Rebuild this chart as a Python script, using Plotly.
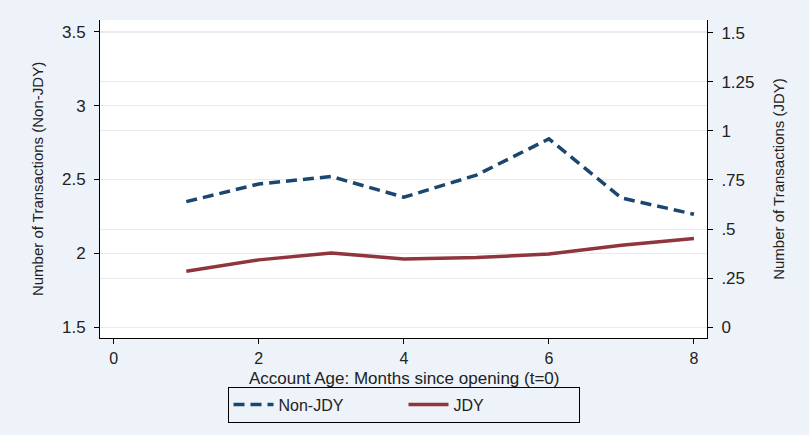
import plotly.graph_objects as go

months = [1, 2, 3, 4, 5, 6, 7, 8]
non_jdy = [2.35, 2.47, 2.52, 2.38, 2.53, 2.775, 2.375, 2.265]
jdy = [0.285, 0.343, 0.378, 0.348, 0.355, 0.373, 0.418, 0.452]

x_ticks = [0, 2, 4, 6, 8]
left_ticks = [1.5, 2, 2.5, 3, 3.5]
left_labels = ["1.5", "2", "2.5", "3", "3.5"]
right_ticks = [0, 0.25, 0.5, 0.75, 1, 1.25, 1.5]
right_labels = ["0", ".25", ".5", ".75", "1", "1.25", "1.5"]

NAVY = "#1a476f"
MAROON = "#90353b"
BG = "#eef2f9"
GRID = "#e6ebf0"
FONT = "Liberation Sans, Arial, sans-serif"

fig = go.Figure()
fig.add_trace(go.Scatter(x=months, y=non_jdy, mode="lines", name="Non-JDY",
                         line=dict(color=NAVY, width=3.5, dash="11px,6px"), yaxis="y"))
fig.add_trace(go.Scatter(x=months, y=jdy, mode="lines", name="JDY",
                         line=dict(color=MAROON, width=3.5), yaxis="y2"))

fig.update_layout(
    width=809, height=435,
    margin=dict(l=100, r=102, t=20, b=91),
    paper_bgcolor=BG, plot_bgcolor="white",
    font=dict(family=FONT, color="#222", size=17),
    showlegend=True,
    legend=dict(orientation="h", x=0.5, xanchor="center", y=-0.153, yanchor="top",
                bordercolor="black", borderwidth=1, bgcolor=BG,
                font=dict(size=16), entrywidth=120, itemwidth=40),
    xaxis=dict(range=[-0.19, 8.18], tickvals=x_ticks, ticks="outside", ticklen=5,
               tickcolor="black", showline=True, linecolor="black", linewidth=1,
               showgrid=False, zeroline=False, tickfont=dict(size=16),
               ticklabelstandoff=1),
    yaxis=dict(range=[1.427, 3.58], tickvals=left_ticks, ticktext=left_labels,
               ticks="outside", ticklen=5, tickcolor="black", showline=True,
               linecolor="black", linewidth=1, showgrid=True, gridcolor=GRID,
               zeroline=False, tickfont=dict(size=17), ticklabelstandoff=5,
               title=dict(text="Number of Transactions (Non-JDY)", font=dict(size=15), standoff=14)),
    yaxis2=dict(range=[-0.055, 1.565], tickvals=right_ticks, ticktext=right_labels,
                overlaying="y", side="right", ticks="outside", ticklen=5,
                tickcolor="black", showline=True, linecolor="black", linewidth=1,
                showgrid=True, gridcolor=GRID, zeroline=False, tickfont=dict(size=17),
                ticklabelstandoff=5,
                title=dict(text="Number of Transactions (JDY)", font=dict(size=15), standoff=20)),
    annotations=[dict(text="Account Age: Months since opening (t=0)", xref="paper", yref="paper",
                      x=0.5, y=-0.128, xanchor="center", yanchor="middle", showarrow=False,
                      font=dict(size=17))],
)

fig.write_html("out.html")
